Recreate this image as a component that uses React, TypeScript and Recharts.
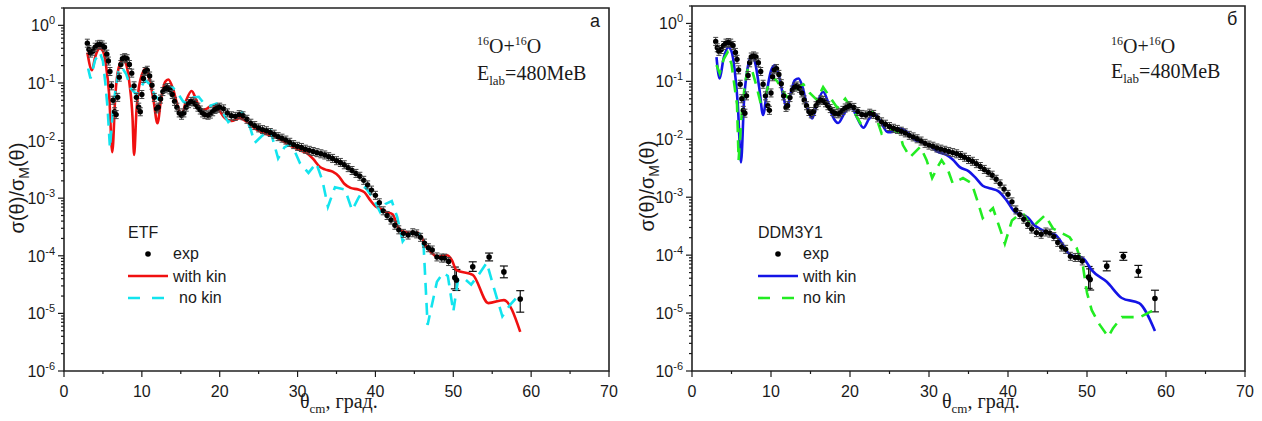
import React from 'react';
import { ComposedChart, Scatter, Line, XAxis, YAxis, ReferenceArea, ErrorBar } from 'recharts';

const expTheta = [3.0, 3.2, 3.4, 3.7, 4.0, 4.3, 4.6, 4.9, 5.2, 5.5, 5.7, 5.9, 6.1, 6.3, 6.5, 6.7, 6.9, 7.1, 7.3, 7.5,
  7.8, 8.1, 8.4, 8.7, 9.0, 9.3, 9.6, 9.8, 10.0, 10.2, 10.4, 10.7, 11.0, 11.3, 11.6, 11.9, 12.1, 12.4, 12.7, 13.0,
  13.3, 13.6, 13.9, 14.2, 14.5, 14.8, 15.1, 15.4, 15.7, 16.0, 16.3, 16.6, 16.9, 17.2, 17.5, 17.8, 18.1, 18.5, 18.8, 19.1,
  19.4, 19.7, 20.0, 20.5, 21.0, 21.5, 22.0, 22.5, 23.0, 23.5, 24.0, 24.5, 25.0, 25.5, 26.0, 26.5, 27.0, 27.5, 28.0, 28.5,
  29.0, 29.5, 30.0, 30.5, 31.0, 31.5, 32.0, 32.5, 33.0, 33.5, 34.0, 34.5, 35.0, 35.5, 36.0, 36.5, 37.0, 37.5, 38.0, 38.5,
  39.0, 39.5, 40.0, 40.5, 41.0, 41.5, 42.0, 42.5, 43.0, 43.6, 44.2, 44.8, 45.3, 45.8, 46.3, 46.8, 47.3, 47.9, 48.5, 48.9, 49.4];
const expSigma = [0.49, 0.38, 0.33, 0.355, 0.417, 0.457, 0.468, 0.457, 0.417, 0.316, 0.24, 0.158, 0.0891, 0.0501, 0.0316, 0.0282, 0.0562, 0.126, 0.209, 0.263,
  0.275, 0.263, 0.209, 0.148, 0.0891, 0.0562, 0.038, 0.0316, 0.0631, 0.12, 0.158, 0.166, 0.132, 0.0912, 0.0562, 0.0355, 0.038, 0.0525, 0.0708, 0.0794,
  0.0832, 0.0759, 0.0631, 0.0479, 0.038, 0.0302, 0.0275, 0.0302, 0.038, 0.0437, 0.0479, 0.0468, 0.0427, 0.038, 0.0339, 0.0302, 0.0282, 0.0275, 0.0288, 0.0316,
  0.0347, 0.0363, 0.038, 0.0355, 0.0302, 0.0269, 0.0263, 0.0282, 0.0269, 0.0234, 0.02, 0.0182, 0.0166, 0.0155, 0.0148, 0.0138, 0.0129, 0.0117, 0.011, 0.0102,
  0.00933, 0.00851, 0.00794, 0.00759, 0.00708, 0.00676, 0.00646, 0.00617, 0.00589, 0.00562, 0.00525, 0.0049, 0.00447, 0.00417, 0.0038, 0.00339, 0.00302, 0.00269, 0.0024, 0.00204,
  0.0017, 0.00138, 0.00112, 8.32e-4, 6.03e-4, 5.01e-4, 4.17e-4, 3.39e-4, 2.82e-4, 2.45e-4, 2.29e-4, 2.51e-4, 2.4e-4, 2.09e-4, 1.66e-4, 1.38e-4, 1.26e-4, 9.55e-5, 9.12e-5, 9.12e-5, 7.94e-5];

// large-angle points with visible error bars
const tailTheta = [50.2, 50.4, 52.5, 54.6, 56.5, 58.6];
const tailSigma = [4.17e-5, 3.8e-5, 6.46e-5, 9.55e-5, 5.25e-5, 1.78e-5];
const tailErrDown = [1.5e-5, 1.3e-5, 1.1e-5, 1.4e-5, 1.1e-5, 0.73e-5];
const tailErrUp = [2.2e-5, 2.0e-5, 1.4e-5, 1.6e-5, 1.4e-5, 0.7e-5];

// ETF, with kinematic correction
const etfKinTheta = [3.0, 3.6, 4.0, 4.6, 5.0, 5.4, 5.8, 6.2, 6.6, 7.0, 7.6, 8.0, 8.4, 8.8, 9.0, 9.3, 9.8, 10.5, 11.0, 11.5,
  12.0, 12.5, 13.0, 13.4, 14.0, 14.6, 15.1, 15.7, 16.4, 17.0, 17.6, 18.3, 19.0, 19.8, 20.6, 21.5, 22.6, 23.4, 24.3, 25.5,
  26.5, 27.5, 28.6, 29.5, 30.3, 31.2, 32.0, 32.8, 33.5, 34.5, 35.3, 36.0, 36.8, 37.8, 38.6, 39.3, 40.0, 40.6, 41.4, 42.2,
  42.9, 43.6, 44.5, 45.5, 46.0, 46.6, 47.4, 48.0, 48.6, 49.2, 49.8, 50.4, 52.5, 54.5, 56.5, 58.6];
const etfKinSigma = [0.339, 0.166, 0.282, 0.398, 0.355, 0.2, 0.0631, 0.00631, 0.0631, 0.178, 0.257, 0.209, 0.1, 0.0251, 0.00562, 0.0316, 0.112, 0.178, 0.112, 0.0501,
  0.02, 0.0562, 0.105, 0.115, 0.0794, 0.0398, 0.0275, 0.0501, 0.0724, 0.0501, 0.0339, 0.0355, 0.0407, 0.0355, 0.0251, 0.0219, 0.0245, 0.0214, 0.017, 0.0138,
  0.0123, 0.011, 0.00891, 0.00759, 0.00676, 0.00603, 0.00479, 0.00355, 0.00316, 0.00288, 0.0024, 0.00178, 0.00151, 0.00141, 0.00126, 9.33e-4, 7.24e-4, 6.61e-4, 5.75e-4, 5.25e-4,
  3.16e-4, 2.63e-4, 2.51e-4, 2.51e-4, 2.0e-4, 1.41e-4, 1.07e-4, 9.55e-5, 1.0e-4, 1.02e-4, 8.51e-5, 5.62e-5, 4.68e-5, 1.51e-5, 1.7e-5, 4.79e-6];

// ETF, no kinematic correction
const etfNoKinTheta = [3.1, 3.4, 4.0, 4.6, 5.0, 5.3, 5.6, 5.9, 6.3, 6.6, 7.0, 7.4, 8.0, 8.6, 9.3, 9.8, 10.4, 11.0, 11.6, 12.1,
  12.7, 13.4, 14.0, 14.6, 15.3, 15.9, 16.6, 17.3, 18.0, 18.7, 19.6, 20.4, 21.1, 22.0, 22.9, 23.9, 24.5, 25.4, 26.5, 27.5,
  28.3, 29.2, 30.3, 31.4, 32.4, 33.2, 33.9, 34.8, 36.1, 37.0, 37.8, 38.7, 39.7, 40.6, 41.3, 42.1, 42.8, 43.5, 44.2, 45.1,
  45.7, 46.2, 46.7, 47.9, 48.7, 49.3, 50.0, 50.6, 51.3, 52.3, 53.3, 54.3, 55.2, 56.3, 57.3, 58.3];
const etfNoKinSigma = [0.178, 0.12, 0.251, 0.339, 0.24, 0.102, 0.0363, 0.00741, 0.0355, 0.0741, 0.158, 0.191, 0.141, 0.0794, 0.0631, 0.0794, 0.112, 0.0955, 0.0631, 0.0525,
  0.0631, 0.0832, 0.0832, 0.0661, 0.0479, 0.0437, 0.0562, 0.0575, 0.0437, 0.0398, 0.0437, 0.0302, 0.0209, 0.0263, 0.0309, 0.017, 0.00912, 0.012, 0.0151, 0.0049,
  0.00759, 0.00891, 0.00407, 0.00275, 0.00407, 0.002, 7.08e-4, 0.00155, 0.00141, 6.17e-4, 0.001, 0.00155, 0.001, 5.75e-4, 7.94e-4, 8.91e-4, 4.68e-4, 1.78e-4, 2.4e-4, 2.51e-4,
  2.4e-4, 1.41e-4, 6.31e-6, 3.55e-5, 5.01e-5, 4.47e-5, 1.07e-5, 3.8e-5, 4.17e-5, 3.16e-5, 4.79e-5, 7.59e-5, 2.82e-5, 8.91e-6, 1.41e-5, 2.0e-5];

// DDM3Y1, with kinematic correction
const ddmKinTheta = [3.1, 3.5, 4.0, 4.6, 5.0, 5.4, 5.8, 6.2, 6.6, 7.0, 7.6, 8.0, 8.5, 9.0, 9.5, 10.0, 10.5, 11.0, 11.5, 12.0,
  12.5, 13.0, 13.5, 14.0, 14.6, 15.2, 15.8, 16.6, 17.2, 17.8, 18.5, 19.3, 20.1, 20.8, 21.7, 22.4, 23.1, 23.8, 24.8, 25.5,
  26.3, 27.2, 28.3, 29.2, 30.0, 31.0, 32.2, 33.0, 33.9, 35.0, 35.8, 36.8, 37.8, 38.8, 39.8, 40.9, 41.7, 42.5, 43.3, 44.1,
  45.3, 46.0, 47.0, 47.6, 48.4, 49.1, 49.7, 50.6, 52.5, 54.4, 56.6, 58.6];
const ddmKinSigma = [0.263, 0.112, 0.251, 0.389, 0.331, 0.158, 0.0398, 0.00398, 0.0501, 0.158, 0.282, 0.209, 0.0794, 0.0263, 0.0708, 0.151, 0.191, 0.126, 0.0603, 0.0347,
  0.0631, 0.105, 0.112, 0.0794, 0.0355, 0.0229, 0.0398, 0.0661, 0.0447, 0.0251, 0.0191, 0.0282, 0.038, 0.0251, 0.0158, 0.0224, 0.0275, 0.0209, 0.0132, 0.0135,
  0.0155, 0.0135, 0.00955, 0.00891, 0.00794, 0.00617, 0.00537, 0.00447, 0.00331, 0.00282, 0.00224, 0.00158, 0.00141, 0.00126, 8.91e-4, 5.5e-4, 5.01e-4, 4.47e-4, 3.31e-4, 2.82e-4,
  2.4e-4, 2.24e-4, 1.48e-4, 1.1e-4, 9.55e-5, 9.33e-5, 8.32e-5, 5.5e-5, 3.47e-5, 1.82e-5, 1.48e-5, 4.9e-6];

// DDM3Y1, no kinematic correction
const ddmNoKinTheta = [3.1, 3.5, 4.0, 4.5, 5.0, 5.4, 5.7, 5.9, 6.3, 6.7, 7.1, 7.6, 8.1, 8.7, 9.1, 9.6, 10.1, 10.8, 11.4, 12.0,
  12.8, 13.5, 14.1, 14.9, 15.8, 16.6, 17.5, 18.4, 19.4, 20.6, 21.3, 22.1, 22.8, 23.5, 24.0, 25.1, 26.3, 26.7, 27.6, 28.9,
  29.7, 30.4, 31.2, 31.6, 32.4, 33.0, 34.3, 35.4, 36.1, 36.8, 38.1, 39.0, 39.6, 40.5, 41.3, 41.9, 43.0, 43.6, 44.7, 45.7,
  46.8, 47.8, 48.7, 49.5, 50.0, 50.6, 51.6, 52.7, 53.3, 54.4, 55.7, 56.7, 58.4];
const ddmNoKinSigma = [0.191, 0.138, 0.24, 0.316, 0.2, 0.0794, 0.0398, 0.00437, 0.0282, 0.0912, 0.174, 0.155, 0.0891, 0.0417, 0.0447, 0.0794, 0.12, 0.1, 0.0708, 0.0537,
  0.0575, 0.0832, 0.0891, 0.0631, 0.0479, 0.0794, 0.0525, 0.0347, 0.0501, 0.0282, 0.0191, 0.0275, 0.0295, 0.02, 0.0126, 0.0155, 0.0126, 0.00794, 0.0049, 0.00741,
  0.00437, 0.00214, 0.00355, 0.00437, 0.00295, 0.00174, 0.00214, 0.00174, 8.91e-4, 4.37e-4, 6.46e-4, 2.82e-4, 1.58e-4, 3.98e-4, 4.9e-4, 5.25e-4, 3.09e-4, 3.55e-4, 4.9e-4, 2.88e-4,
  2.4e-4, 2.04e-4, 1.32e-4, 6.31e-5, 2.24e-5, 1.12e-5, 6.31e-6, 3.89e-6, 5.5e-6, 8.51e-6, 8.51e-6, 8.51e-6, 1.12e-5];

// axis ticks
const xTicks = [0, 5, 10, 15, 20, 25, 30, 35, 40, 45, 50, 55, 60, 65, 70];
const yMajor = [1e-6, 1e-5, 1e-4, 1e-3, 1e-2, 1e-1, 1];
const yMinorMult = [2, 3, 4, 5, 6, 7, 8, 9];
const yTicks = [...yMajor, ...yMajor.flatMap((d) => yMinorMult.map((m) => d * m))]
  .filter((v) => v <= 2)
  .sort((a, b) => a - b);

const sans = "'Liberation Sans', Arial, sans-serif";
const serif = "'Liberation Serif', 'Times New Roman', serif";
const ink = '#1a1a1a';

type Pt = { x: number; y: number };
const zip = (xs: number[], ys: number[]): Pt[] => xs.map((x, i) => ({ x, y: ys[i] }));

const expData = zip(expTheta, expSigma);
const tailData = tailTheta.map((x, i) => ({ x, y: tailSigma[i], err: [tailErrDown[i], tailErrUp[i]] }));

const XTick = (props: any) => {
  const { x, y, payload } = props;
  const major = payload.value % 10 === 0;
  return (
    <g>
      <line x1={x} y1={y} x2={x} y2={y + (major ? 6 : 3)} stroke={ink} strokeWidth={1.2} />
      {major && (
        <text x={x} y={y + 26} textAnchor="middle" fontSize={16} fontFamily={sans} fill={ink}>
          {payload.value}
        </text>
      )}
    </g>
  );
};

const YTick = (props: any) => {
  const { x, y, payload } = props;
  const e = Math.log10(payload.value);
  const major = Math.abs(e - Math.round(e)) < 1e-6;
  return (
    <g>
      <line x1={x - (major ? 6 : 3)} y1={y} x2={x} y2={y} stroke={ink} strokeWidth={1.2} />
      {major && (
        <text x={x - 9} y={y + 6} textAnchor="end" fontSize={16} fontFamily={sans} fill={ink}>
          10<tspan dy={-7} fontSize={11}>{Math.round(e)}</tspan>
        </text>
      )}
    </g>
  );
};

const ExpDot = (props: any) => {
  const { cx, cy } = props;
  if (cx == null || cy == null) return null;
  return (
    <g>
      <line x1={cx} y1={cy - 4} x2={cx} y2={cy + 4} stroke="#444" strokeWidth={1} />
      <line x1={cx - 2.5} y1={cy - 4} x2={cx + 2.5} y2={cy - 4} stroke="#444" strokeWidth={1} />
      <line x1={cx - 2.5} y1={cy + 4} x2={cx + 2.5} y2={cy + 4} stroke="#444" strokeWidth={1} />
      <circle cx={cx} cy={cy} r={2.7} fill="#000" />
    </g>
  );
};

const TailDot = (props: any) => {
  const { cx, cy } = props;
  if (cx == null || cy == null) return null;
  return <circle cx={cx} cy={cy} r={2.8} fill="#000" />;
};

type PanelProps = {
  kin: Pt[];
  noKin: Pt[];
  kinColor: string;
  noKinColor: string;
  yAxisWidth: number;
  marginRight: number;
  marginTop: number;
};

const Panel = ({ kin, noKin, kinColor, noKinColor, yAxisWidth, marginRight, marginTop }: PanelProps) => (
  <ComposedChart width={631} height={421} margin={{ top: marginTop, right: marginRight, bottom: 20, left: 0 }}>
    <XAxis type="number" dataKey="x" domain={[0, 70]} ticks={xTicks} interval={0} tick={XTick}
      tickSize={0} tickMargin={0} tickLine={false} axisLine={false} height={30} allowDataOverflow />
    <YAxis type="number" scale="log" domain={[1e-6, 2]} ticks={yTicks} interval={0} tick={YTick}
      tickSize={0} tickMargin={0} tickLine={false} axisLine={false} width={yAxisWidth} allowDataOverflow />
    <ReferenceArea x1={0} x2={70} y1={1e-6} y2={2} fill="none" stroke="#222" strokeWidth={1.6} />
    <Scatter data={expData} dataKey="y" shape={ExpDot} isAnimationActive={false} />
    <Scatter data={tailData} dataKey="y" shape={TailDot} isAnimationActive={false}>
      <ErrorBar dataKey="err" direction="y" width={4} stroke="#111" strokeWidth={1.2} isAnimationActive={false} />
    </Scatter>
    <Line data={kin} dataKey="y" type="monotone" stroke={kinColor} strokeWidth={2.6} dot={false} isAnimationActive={false} />
    <Line data={noKin} dataKey="y" type="linear" stroke={noKinColor} strokeWidth={2.6} strokeDasharray="12 8"
      dot={false} isAnimationActive={false} />
  </ComposedChart>
);

type AnnotProps = {
  model: string;
  letter: string;
  letterX: number;
  letterY: number;
  reactX: number;
  reactY: number;
  energyY: number;
  legX: number;
  noKinX: number;
  kinColor: string;
  noKinColor: string;
  yLabelX: number;
  yLabelY: number;
  xLabelX: number;
};

const Annotations = (p: AnnotProps) => (
  <g>
    <text x={p.letterX} y={p.letterY} fontSize={18} fontFamily={sans} fill={ink}>{p.letter}</text>
    <text x={p.reactX} y={p.reactY} fontSize={20} fontFamily={serif} fill={ink}>
      <tspan fontSize={12} dy={-8}>16</tspan><tspan dy={8}>O+</tspan>
      <tspan fontSize={12} dy={-8}>16</tspan><tspan dy={8}>O</tspan>
    </text>
    <text x={p.reactX} y={p.energyY} fontSize={20} fontFamily={serif} fill={ink}>
      E<tspan fontSize={13} dy={5}>lab</tspan><tspan dy={-5}>=480MeB</tspan>
    </text>

    <text x={p.legX} y={238} fontSize={16} fontFamily={sans} fill={ink}>{p.model}</text>
    <circle cx={p.legX + 20} cy={254} r={2.8} fill="#000" />
    <text x={p.legX + 45} y={259} fontSize={16} fontFamily={sans} fill={ink}>exp</text>
    <line x1={p.legX} y1={276} x2={p.legX + 40} y2={276} stroke={p.kinColor} strokeWidth={2.6} />
    <text x={p.legX + 45} y={282} fontSize={16} fontFamily={sans} fill={ink}>with kin</text>
    <line x1={p.legX} y1={298} x2={p.legX + 37} y2={298} stroke={p.noKinColor} strokeWidth={2.6} strokeDasharray="12 12" />
    <text x={p.noKinX} y={303} fontSize={16} fontFamily={sans} fill={ink}>no kin</text>

    <text transform={`translate(${p.yLabelX},${p.yLabelY}) rotate(-90)`} textAnchor="middle" fontSize={20} fontFamily={sans} fill={ink}>
      σ(θ)/σ<tspan fontSize={14} dy={5}>M</tspan><tspan dy={-5}>(θ)</tspan>
    </text>
    <text x={p.xLabelX} y={408} fontSize={20} fontFamily={serif} fill={ink}>
      θ<tspan fontSize={13} dy={5}>cm</tspan><tspan dy={-5}>, град.</tspan>
    </text>
  </g>
);

const etfKin = zip(etfKinTheta, etfKinSigma);
const etfNoKin = zip(etfNoKinTheta, etfNoKinSigma);
const ddmKin = zip(ddmKinTheta, ddmKinSigma);
const ddmNoKin = zip(ddmNoKinTheta, ddmNoKinSigma);

const red = '#f01010';
const cyan = '#12e4ee';
const blue = '#1414e6';
const green = '#22ec22';

export default function App() {
  return (
    <div style={{ position: 'absolute', left: 0, top: 0, width: 1262, height: 421, background: '#fff' }}>
      <div style={{ position: 'absolute', left: 0, top: 0 }}>
        <Panel kin={etfKin} noKin={etfNoKin} kinColor={red} noKinColor={cyan} yAxisWidth={64} marginRight={22} marginTop={8} />
      </div>
      <div style={{ position: 'absolute', left: 631, top: 0 }}>
        <Panel kin={ddmKin} noKin={ddmNoKin} kinColor={blue} noKinColor={green} yAxisWidth={61} marginRight={17} marginTop={6} />
      </div>
      <svg width={1262} height={421} style={{ position: 'absolute', left: 0, top: 0, pointerEvents: 'none' }}>
        <Annotations model="ETF" letter="а" letterX={590} letterY={27} reactX={477} reactY={53} energyY={80}
          legX={128} noKinX={179} kinColor={red} noKinColor={cyan} yLabelX={24} yLabelY={188} xLabelX={300} />
        <Annotations model="DDM3Y1" letter="б" letterX={1227} letterY={25} reactX={1111} reactY={53} energyY={78}
          legX={758} noKinX={803} kinColor={blue} noKinColor={green} yLabelX={654} yLabelY={186} xLabelX={942} />
      </svg>
    </div>
  );
}
